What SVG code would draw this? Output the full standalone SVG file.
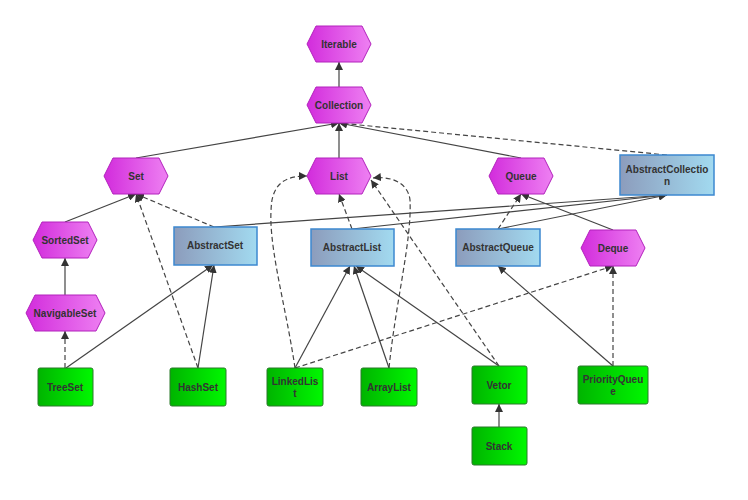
<svg xmlns="http://www.w3.org/2000/svg" width="748" height="500" viewBox="0 0 748 500">
<defs>
<linearGradient id="gh" x1="0" x2="1" y1="0" y2="0"><stop offset="0" stop-color="#d22cdc"/><stop offset="1" stop-color="#ee80f2"/></linearGradient>
<linearGradient id="gb" x1="0" x2="1" y1="0" y2="0"><stop offset="0" stop-color="#8c9cbc"/><stop offset="1" stop-color="#a2daf0"/></linearGradient>
<linearGradient id="gg" x1="0" x2="1" y1="0" y2="0"><stop offset="0" stop-color="#00b400"/><stop offset="1" stop-color="#00f800"/></linearGradient>
<marker id="a" viewBox="0 0 10 10" refX="10" refY="5" markerWidth="8" markerHeight="8" orient="auto-start-reverse" markerUnits="userSpaceOnUse"><path d="M0,0 L10,5 L0,10 z" fill="#333"/></marker>
</defs>
<style>
.h{fill:url(#gh);stroke:#b222bc;stroke-width:1}
.b{fill:url(#gb);stroke:#3d88d0;stroke-width:1.5}
.g{fill:url(#gg);stroke:#2a7a2a;stroke-width:1}
text{font-family:"Liberation Sans",Arial,sans-serif;font-size:10px;font-weight:bold;fill:#333;text-anchor:middle}
.e path{fill:none;stroke:#444;stroke-width:1.2;marker-end:url(#a)}
.e .d{stroke-dasharray:5,3}
</style>
<rect width="748" height="500" fill="#fff"/>
<g class="e">
<path d="M339,87 L339,62"/>
<path d="M136,158 L339,123"/>
<path d="M339,158 L339,123"/>
<path d="M521,158 L339,123"/>
<path class="d" d="M667,155 L339,123"/>
<path d="M65,222 L136,194"/>
<path d="M65,295 L65,258"/>
<path class="d" d="M65,368 L65,331"/>
<path d="M66,368 L213,265"/>
<path d="M198,368 L214,265"/>
<path class="d" d="M198,368 L136,194"/>
<path class="d" d="M214,227 L136,194"/>
<path d="M214,227 L667,195"/>
<path class="d" d="M352,229 L339,194"/>
<path d="M352,229 L667,195"/>
<path class="d" d="M498,229 L521,194"/>
<path d="M498,229 L667,195"/>
<path d="M613,230 L521,194"/>
<path class="d" d="M295,368 C285,300 266,240 272,200 C276,180 290,176 307,176"/>
<path d="M295,368 L350,266"/>
<path class="d" d="M295,368 L613,266"/>
<path d="M389,368 L354,266"/>
<path class="d" d="M389,368 C396,300 412,240 410,200 C408,182 390,176 373,178"/>
<path d="M499,366 L356,266"/>
<path class="d" d="M499,366 L371,180"/>
<path d="M613,366 L498,266"/>
<path class="d" d="M613,366 L613,266"/>
<path d="M499,427 L499,404"/>
</g>
<g id="Iterable"><polygon class="h" points="307,44 316,26 362,26 371,44 362,62 316,62"/><text x="339" y="48">Iterable</text></g>
<g id="Collection"><polygon class="h" points="307,105 316,87 362,87 371,105 362,123 316,123"/><text x="339" y="109">Collection</text></g>
<g id="Set"><polygon class="h" points="104,176 113,158 159,158 168,176 159,194 113,194"/><text x="136" y="180">Set</text></g>
<g id="List"><polygon class="h" points="307,176 316,158 362,158 371,176 362,194 316,194"/><text x="339" y="180">List</text></g>
<g id="Queue"><polygon class="h" points="489,176 498,158 544,158 553,176 544,194 498,194"/><text x="521" y="180">Queue</text></g>
<g id="AbstractCollection"><rect class="b" x="620" y="155" width="94" height="40"/><text x="667" y="173">AbstractCollectio</text><text x="667" y="185">n</text></g>
<g id="SortedSet"><polygon class="h" points="33,240 42,222 88,222 97,240 88,258 42,258"/><text x="65" y="244">SortedSet</text></g>
<g id="AbstractSet"><rect class="b" x="174" y="227" width="83" height="38"/><text x="215" y="249">AbstractSet</text></g>
<g id="AbstractList"><rect class="b" x="311" y="229" width="83" height="37"/><text x="352" y="251">AbstractList</text></g>
<g id="AbstractQueue"><rect class="b" x="456" y="229" width="84" height="37"/><text x="498" y="251">AbstractQueue</text></g>
<g id="Deque"><polygon class="h" points="581,248 590,230 636,230 645,248 636,266 590,266"/><text x="613" y="252">Deque</text></g>
<g id="NavigableSet"><polygon class="h" points="26,313 35,295 96,295 105,313 96,331 35,331"/><text x="65" y="317">NavigableSet</text></g>
<g id="TreeSet"><rect class="g" x="38" y="368" width="55" height="38" rx="2"/><text x="65" y="391">TreeSet</text></g>
<g id="HashSet"><rect class="g" x="170" y="368" width="56" height="38" rx="2"/><text x="198" y="391">HashSet</text></g>
<g id="LinkedList"><rect class="g" x="267" y="368" width="56" height="38" rx="2"/><text x="295" y="385">LinkedLis</text><text x="295" y="397">t</text></g>
<g id="ArrayList"><rect class="g" x="361" y="368" width="56" height="38" rx="2"/><text x="389" y="391">ArrayList</text></g>
<g id="Vetor"><rect class="g" x="472" y="366" width="55" height="38" rx="2"/><text x="499" y="389">Vetor</text></g>
<g id="PriorityQueue"><rect class="g" x="578" y="366" width="70" height="38" rx="2"/><text x="613" y="383">PriorityQueu</text><text x="613" y="395">e</text></g>
<g id="Stack"><rect class="g" x="472" y="427" width="55" height="38" rx="2"/><text x="499" y="450">Stack</text></g>
</svg>
